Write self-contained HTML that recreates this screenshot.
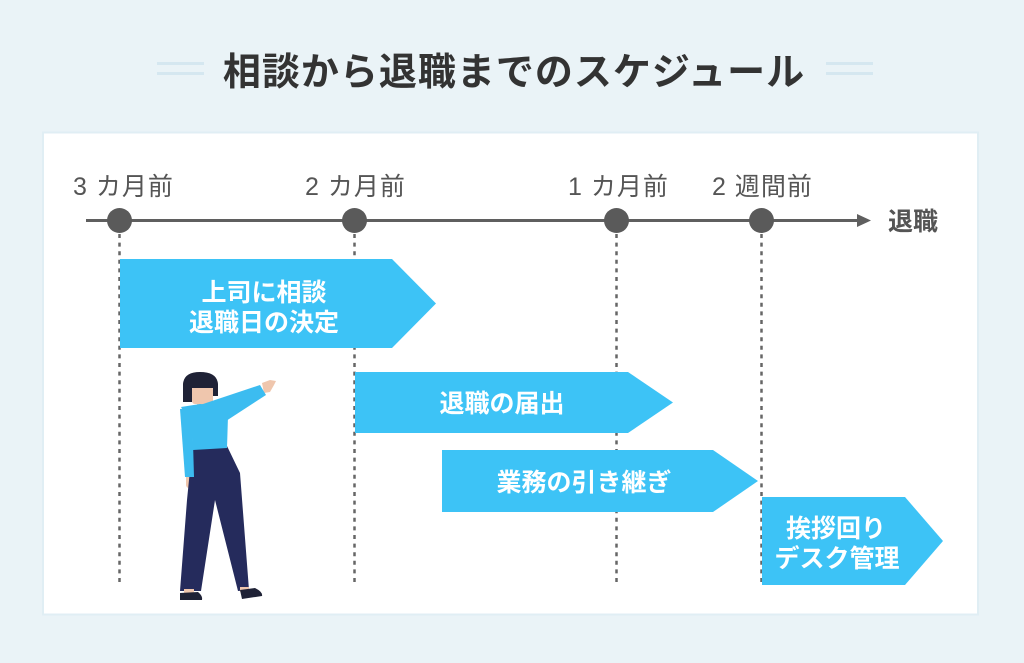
<!DOCTYPE html>
<html>
<head>
<meta charset="utf-8">
<style>
  html, body { margin: 0; padding: 0; }
  body { width: 1024px; height: 663px; background: #eaf3f7; overflow: hidden; }
  svg { display: block; }
  text { font-family: "Liberation Sans", "Noto Sans CJK JP", sans-serif; }
</style>
</head>
<body>
<svg width="1024" height="663" viewBox="0 0 1024 663" xmlns="http://www.w3.org/2000/svg">
  <rect x="0" y="0" width="1024" height="663" fill="#eaf3f7"/>

  <!-- Title decorations -->
  <rect x="157" y="62" width="47" height="3" fill="#d5e7f0"/>
  <rect x="157" y="72" width="47" height="3" fill="#d5e7f0"/>
  <rect x="826" y="62" width="47" height="3" fill="#d5e7f0"/>
  <rect x="826" y="72" width="47" height="3" fill="#d5e7f0"/>
  <text x="514" y="85" text-anchor="middle" font-size="38" font-weight="bold" fill="#333333" letter-spacing="1">相談から退職までのスケジュール</text>

  <!-- Panel -->
  <rect x="42" y="131.5" width="937" height="484" fill="#e0eef4"/>
  <rect x="44" y="133.5" width="933" height="480" fill="#ffffff"/>

  <!-- Labels -->
  <text x="73" y="195" font-size="25" fill="#555555" letter-spacing="1">3 カ月前</text>
  <text x="305" y="195" font-size="25" fill="#555555" letter-spacing="1">2 カ月前</text>
  <text x="568" y="195" font-size="25" fill="#555555" letter-spacing="1">1 カ月前</text>
  <text x="712" y="195" font-size="25" fill="#555555" letter-spacing="1">2 週間前</text>
  <text x="888" y="230" font-size="25" font-weight="bold" fill="#555555">退職</text>

  <!-- Timeline -->
  <line x1="86" y1="220.5" x2="860" y2="220.5" stroke="#5f5f5f" stroke-width="3"/>
  <polygon points="857,214 871,220.5 857,227" fill="#5f5f5f"/>

  <!-- Dashed lines -->
  <g stroke="#666666" stroke-width="2.5" stroke-dasharray="4 4.6">
    <line x1="119.5" y1="234" x2="119.5" y2="586"/>
    <line x1="354.5" y1="234" x2="354.5" y2="586"/>
    <line x1="616.5" y1="234" x2="616.5" y2="586"/>
    <line x1="761.5" y1="234" x2="761.5" y2="586"/>
  </g>

  <!-- Circles -->
  <circle cx="119.5" cy="220.5" r="12.5" fill="#5a5a5a"/>
  <circle cx="354.5" cy="220.5" r="12.5" fill="#5a5a5a"/>
  <circle cx="616.5" cy="220.5" r="12.5" fill="#5a5a5a"/>
  <circle cx="761.5" cy="220.5" r="12.5" fill="#5a5a5a"/>

  <!-- Bars -->
  <g fill="#3dc3f6">
    <polygon points="120,259 392,259 436,303.5 392,348 120,348"/>
    <polygon points="355,372 628,372 673,402.5 628,433 355,433"/>
    <polygon points="442,450 713,450 758,481 713,512 442,512"/>
    <polygon points="762,497 905,497 943,541 905,585 762,585"/>
  </g>
  <g fill="#ffffff" font-size="25" font-weight="bold" text-anchor="middle">
    <text x="264" y="301">上司に相談</text>
    <text x="264" y="331">退職日の決定</text>
    <text x="502" y="412">退職の届出</text>
    <text x="584" y="491">業務の引き継ぎ</text>
    <text x="836" y="537">挨拶回り</text>
    <text x="837" y="567">デスク管理</text>
  </g>

  <!-- Figure -->
  <g>
    <!-- neck / face -->
    <rect x="197" y="398" width="10" height="12" fill="#efc6ad"/>
    <rect x="192" y="386" width="21" height="18" rx="3" fill="#efc6ad"/>
    <!-- hair -->
    <path d="M183,402 L183,384 Q184,372 200,372 Q217,372 218,384 L218,396 L213,396 L213,388 L192,388 L192,402 Z" fill="#1f2236"/>
    <!-- hand raised -->
    <polygon points="262,383 270,380 276,381 274,385 270,392 264,393" fill="#efc6ad"/>
    <!-- hand down -->
    <rect x="186" y="474" width="9" height="14" rx="3" fill="#efc6ad"/>
    <!-- pants -->
    <polygon points="193,447 227,446 240,473 249,590 238,591 215,500 201,591 180,591 187,500 190,470" fill="#252b5c"/>
    <!-- sweater torso -->
    <polygon points="181,407 200,404 215,405 228,416 227,448 193,450 192,425" fill="#3cbcf0"/>
    <!-- raised arm -->
    <polygon points="200,405 260,385 266,395 226,421" fill="#3cbcf0"/>
    <!-- left arm down -->
    <polygon points="180,409 192,408 194,477 185,477" fill="#3cbcf0"/>
    <!-- ankles -->
    <rect x="184" y="589" width="10" height="5" fill="#efc6ad"/>
    <rect x="240" y="587" width="9" height="5" fill="#efc6ad"/>
    <!-- shoes -->
    <path d="M180,593 L198,592 Q203,596 202,600 L180,600 Z" fill="#1f2236"/>
    <path d="M240,590 L255,588 Q263,592 262,596 L242,599 Z" fill="#1f2236"/>
  </g>
</svg>
</body>
</html>
